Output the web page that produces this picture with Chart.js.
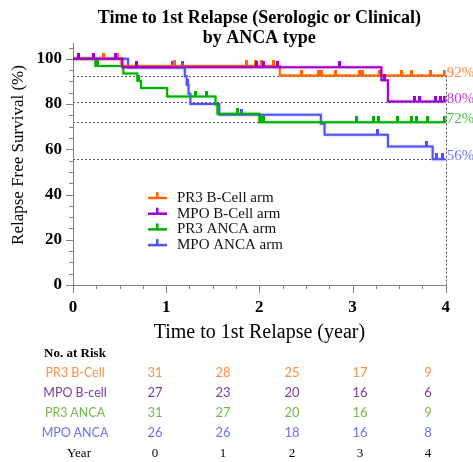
<!DOCTYPE html>
<html lang="en">
<head>
  <meta charset="UTF-8" />
  <title>Time to 1st Relapse by ANCA type</title>
  <script src="https://cdn.jsdelivr.net/npm/chart.js"></script>
  <style>
    body { margin: 0; background: #fff; }
    #wrap { position: relative; width: 473px; height: 462px; overflow: hidden; }
    #chart { position: absolute; left: 0; top: 0; }
    .cell { position: absolute; transform: translate(-50%, -50%); white-space: nowrap; }
    .lbl { font-family: Lato, "Noto Sans", sans-serif; font-size: 12.5px; }
    .num { font-family: Lato, "Noto Sans", sans-serif; font-size: 13px; }
    .serif { font-family: "Liberation Serif", serif; font-size: 13px; color: #000; }
  </style>
</head>
<body>
  <div id="wrap">
    <canvas id="chart" width="473" height="462"></canvas>
  </div>

  <script>
    // Kaplan-Meier steps (time in years, survival in %)
    const seriesNames = ["PR3 B-Cell arm", "MPO B-Cell arm", "PR3 ANCA arm", "MPO ANCA arm"];
    const endLabels = ["92%", "80%", "72%", "56%"];
    const yTicks = [0, 20, 40, 60, 80, 100];
    const xTicks = [0, 1, 2, 3, 4];

    const pr3BTimes = [0, 0.52, 2.22, 4.0];
    const pr3BSurv = [100, 96.8, 92.6, 92.6];
    const pr3BCensor = [0.33, 0.48, 1.09, 1.86, 1.96, 2.02, 2.15, 2.45, 2.63, 2.67, 2.82, 3.07, 3.11, 3.29, 3.53, 3.63, 3.84, 3.99];

    const mpoBTimes = [0, 0.53, 3.31, 3.38, 4.0];
    const mpoBSurv = [100, 96.3, 90.5, 81.1, 81.1];
    const mpoBCensor = [0.06, 0.22, 0.46, 0.68, 1.97, 2.04, 2.2, 2.86, 3.34, 3.67, 3.72, 3.89, 3.94, 3.99];

    const pr3ATimes = [0, 0.24, 0.54, 0.69, 0.73, 1.01, 1.53, 1.55, 2.0, 4.0];
    const pr3ASurv = [100, 96.8, 93.5, 90.3, 87.1, 83.3, 79.8, 75.7, 72.0, 72.0];
    const pr3ACensor = [0.26, 0.7, 1.32, 1.43, 1.77, 2.01, 2.04, 3.04, 3.22, 3.28, 3.48, 3.63, 3.69, 3.81, 3.99];

    const mpoATimes = [0, 0.59, 1.20, 1.22, 1.24, 1.26, 1.57, 2.66, 2.70, 3.38, 3.86, 4.0];
    const mpoASurv = [100, 96.2, 92.3, 88.5, 84.6, 80.0, 75.3, 71.3, 66.4, 61.2, 55.6, 55.6];
    const mpoACensor = [1.07, 1.17, 1.23, 1.81, 3.27, 3.79, 3.9, 3.97];

    // number at risk table
    const riskLabels = ["PR3 B-Cell", "MPO B-cell", "PR3 ANCA", "MPO ANCA"];
    const riskYears = [0, 1, 2, 3, 4];
    const riskPR3B = [31, 28, 25, 17, 9];
    const riskMPOB = [27, 23, 20, 16, 6];
    const riskPR3A = [31, 27, 20, 16, 9];
    const riskMPOA = [26, 26, 18, 16, 8];

    const lineColors = ["#ff6600", "#9d00d0", "#00b000", "#5252f2"];
    const labelColors = ["#ff8a3d", "#c23ad6", "#3ec43e", "#7474ff"];
    const tableColors = ["#f7904a", "#7a3aa6", "#78b846", "#6f6ff7"];

    const groups = [
      { times: pr3BTimes, surv: pr3BSurv, censor: pr3BCensor },
      { times: mpoBTimes, surv: mpoBSurv, censor: mpoBCensor },
      { times: pr3ATimes, surv: pr3ASurv, censor: pr3ACensor },
      { times: mpoATimes, surv: mpoASurv, censor: mpoACensor }
    ];

    function survAt(g, t) {
      let s = g.surv[0];
      g.times.forEach((tt, i) => { if (tt <= t) s = g.surv[i]; });
      return s;
    }

    function tickImage(color) {
      const c = document.createElement("canvas");
      c.width = 3; c.height = 12;
      const g = c.getContext("2d");
      g.fillStyle = color;
      g.fillRect(0, 0, 3, 6);
      return c;
    }

    // draw order: purple, orange, green, blue on top
    const order = [1, 0, 2, 3];
    const datasets = [];
    order.forEach(i => {
      const g = groups[i];
      datasets.push({
        label: seriesNames[i],
        data: g.times.map((t, k) => ({ x: t, y: g.surv[k] })),
        borderColor: lineColors[i],
        borderWidth: 2,
        stepped: true,
        pointRadius: 0,
        fill: false,
        glow: true
      });
      datasets.push({
        label: seriesNames[i] + " censored",
        data: g.censor.map(t => ({ x: t, y: survAt(g, t) })),
        showLine: false,
        pointStyle: tickImage(lineColors[i]),
        pointRadius: 5,
        borderColor: lineColors[i],
        backgroundColor: lineColors[i]
      });
    });

    const SERIF = '"Liberation Serif", "Times New Roman", serif';

    const decor = {
      id: "decor",
      beforeDatasetDraw(chart, args) {
        const ds = chart.data.datasets[args.index];
        if (ds.glow) {
          const ctx = chart.ctx;
          ctx.save();
          ctx.shadowColor = ds.borderColor + "88";
          ctx.shadowBlur = 2;
        }
      },
      afterDatasetDraw(chart, args) {
        const ds = chart.data.datasets[args.index];
        if (ds.glow) chart.ctx.restore();
      },
      beforeDatasetsDraw(chart) {
        const { ctx, chartArea: a, scales: { x, y } } = chart;
        ctx.save();
        // dotted reference lines at the final levels
        ctx.strokeStyle = "#555";
        ctx.lineWidth = 1;
        ctx.setLineDash([2, 2]);
        let topLevel = 0;
        groups.forEach(g => {
          const last = g.surv[g.surv.length - 1];
          topLevel = Math.max(topLevel, last);
          const py = Math.round(y.getPixelForValue(last)) + 0.5;
          ctx.beginPath();
          ctx.moveTo(x.getPixelForValue(0), py);
          ctx.lineTo(x.getPixelForValue(4), py);
          ctx.stroke();
        });
        const px = Math.round(x.getPixelForValue(4)) + 0.5;
        ctx.beginPath();
        ctx.moveTo(px, y.getPixelForValue(topLevel));
        ctx.lineTo(px, a.bottom);
        ctx.stroke();
        ctx.setLineDash([]);

        // axes and tick marks
        ctx.strokeStyle = "#808080";
        ctx.beginPath();
        ctx.moveTo(a.left + 0.5, a.top);
        ctx.lineTo(a.left + 0.5, a.bottom + 0.5);
        ctx.lineTo(a.right, a.bottom + 0.5);
        for (let v = 0; v <= 4.001; v += 0.25) {
          const tx = Math.round(x.getPixelForValue(v)) + 0.5;
          const len = Math.abs(v - Math.round(v)) < 1e-6 ? 8 : 4;
          ctx.moveTo(tx, a.bottom);
          ctx.lineTo(tx, a.bottom + len);
        }
        for (let v = 0; v <= 105; v += 5) {
          const ty = Math.round(y.getPixelForValue(v)) + 0.5;
          const len = v % 20 === 0 ? 7 : 4;
          ctx.moveTo(a.left - len, ty);
          ctx.lineTo(a.left, ty);
        }
        ctx.stroke();
        ctx.restore();
      },
      afterDraw(chart) {
        const { ctx, chartArea: a, scales: { x, y } } = chart;
        const cx = (a.left + a.right) / 2;
        ctx.save();
        ctx.fillStyle = "#000";
        // title
        ctx.font = "bold 18px " + SERIF;
        ctx.textAlign = "center";
        ctx.textBaseline = "alphabetic";
        ctx.fillText("Time to 1st Relapse (Serologic or Clinical)", cx, 22.5);
        ctx.fillText("by ANCA type", cx, 43);
        // x title
        ctx.font = "20px " + SERIF;
        ctx.fillText("Time to 1st Relapse (year)", cx, 338);
        // y title
        ctx.save();
        ctx.translate(19, 155);
        ctx.rotate(-Math.PI / 2);
        ctx.font = "17px " + SERIF;
        ctx.textBaseline = "middle";
        ctx.fillText("Relapse Free Survival (%)", 0, 0);
        ctx.restore();

        // end labels
        ctx.font = "15px " + SERIF;
        ctx.textAlign = "left";
        groups.forEach((g, i) => {
          const last = g.surv[g.surv.length - 1];
          ctx.fillStyle = labelColors[i];
          ctx.fillText(endLabels[i], a.right + 1, y.getPixelForValue(last) + 1);
        });

        // legend
        ctx.font = "15px " + SERIF;
        ctx.textBaseline = "middle";
        seriesNames.forEach((name, i) => {
          const ly = 198 + i * 15.7;
          ctx.strokeStyle = lineColors[i];
          ctx.lineWidth = 2.5;
          ctx.beginPath();
          ctx.moveTo(148, ly);
          ctx.lineTo(167, ly);
          ctx.stroke();
          ctx.fillStyle = lineColors[i];
          ctx.fillRect(156, ly - 6, 2.5, 6);
          ctx.fillStyle = "#111";
          ctx.fillText(name, 177, ly);
        });
        ctx.restore();
      }
    };

    new Chart(document.getElementById("chart"), {
      type: "line",
      data: { datasets },
      options: {
        responsive: false,
        animation: false,
        layout: { padding: { top: 43, right: 27.3, bottom: 117, left: 0 } },
        plugins: { legend: { display: false }, title: { display: false }, tooltip: { enabled: false } },
        scales: {
          x: {
            type: "linear",
            min: 0,
            max: 4,
            grid: { display: false, drawTicks: false },
            border: { display: false },
            ticks: { padding: 12, color: "#000", font: { family: SERIF, size: 17, weight: "bold" } },
            afterBuildTicks(scale) { scale.ticks = xTicks.map(v => ({ value: v })); },
            afterFit(scale) { scale.height = 60; }
          },
          y: {
            min: 0,
            max: 107,
            grid: { display: false, drawTicks: false },
            border: { display: false },
            ticks: { padding: 11, color: "#000", font: { family: SERIF, size: 17, weight: "bold" } },
            afterBuildTicks(scale) { scale.ticks = yTicks.map(v => ({ value: v })); },
            afterFit(scale) { scale.width = 73; }
          }
        }
      },
      plugins: [decor]
    });

    // No. at Risk table
    const wrap = document.getElementById("wrap");
    const colX = [155, 223, 292, 360, 428];
    function cell(text, x, y, cls, color, bold) {
      const d = document.createElement("div");
      d.className = "cell " + cls;
      d.style.left = x + "px";
      d.style.top = y + "px";
      if (color) d.style.color = color;
      if (bold) d.style.fontWeight = "bold";
      d.textContent = text;
      wrap.appendChild(d);
    }
    cell("No. at Risk", 75, 352.5, "serif", "#000", true);
    [riskPR3B, riskMPOB, riskPR3A, riskMPOA].forEach((row, i) => {
      const ry = 372 + i * 20;
      cell(riskLabels[i], 75, ry, "lbl", tableColors[i]);
      row.forEach((n, k) => cell(String(n), colX[k], ry, "num", tableColors[i]));
    });
    cell("Year", 79, 452.5, "serif", "#000");
    riskYears.forEach((yr, k) => cell(String(yr), colX[k], 452.5, "serif", "#000"));
  </script>
</body>
</html>
